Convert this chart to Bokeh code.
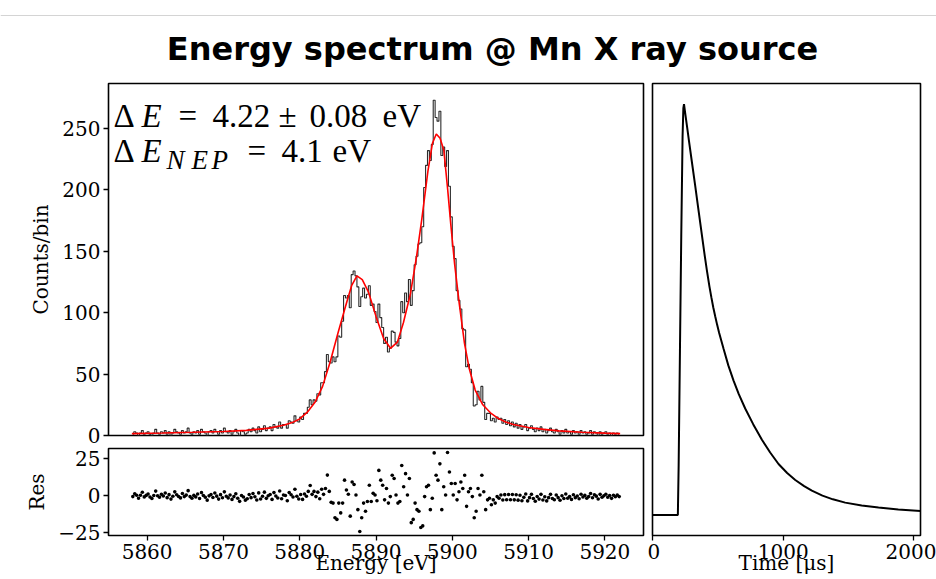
import numpy as np
from bokeh.plotting import figure
from bokeh.layouts import column, row
from bokeh.models import Range1d, FixedTicker, Label, Span
from bokeh.embed import file_html
from bokeh.resources import INLINE

# ---------------- data ----------------
bin_start = 5858.0
bin_width = 0.25

counts = [
    1, 3, 2, 0, 2, 4, 1, 2, 3, 1, 0, 2, 5, 2, 1, 3,
    2, 4, 1, 3, 0, 2, 5, 3, 2, 1, 4, 2, 3, 6, 2, 1,
    3, 2, 4, 1, 5, 3, 2, 0, 3, 4, 2, 5, 3, 1, 4, 2,
    6, 3, 2, 4, 1, 3, 5, 2, 0, 4, 3, 1, 2, 5, 3, 6,
    4, 2, 7, 3, 5, 8, 4, 6,
    7, 4, 9, 7, 6, 11, 6, 9, 9, 6, 12, 11, 10, 16, 12, 11,
    15, 13, 18, 18, 23, 29, 25, 29, 28, 34, 33, 43, 43, 52, 66, 60,
    59, 64, 60, 64, 81, 80, 93, 114, 112, 114, 104, 131, 134, 130, 121, 105,
    113, 120, 112, 115, 122, 106, 107, 101, 92, 107, 96, 88, 75, 80, 68, 71,
    85, 84, 76, 73, 79, 109, 100, 116, 109, 127, 106, 118, 139, 146, 156, 157,
    170, 202, 220, 232, 224, 237, 273, 259, 256, 264, 228, 235, 219, 232, 203, 178,
    154, 144, 118, 110, 103, 87, 86, 56, 58, 54, 43, 24, 25, 36, 29, 40,
    27, 13, 18, 18, 12, 14, 11, 15, 13, 14,
    10, 13, 9, 12, 8, 11, 7, 10, 6, 9, 5, 7, 9, 4, 6, 8,
    5, 3, 6, 4, 7, 3, 5, 2, 4, 6, 3, 2, 5, 3, 1, 4,
    2, 5, 2, 3, 1, 4, 2, 3, 1, 4, 2, 3, 1, 2, 4, 1,
    3, 2, 0, 3, 1, 2, 3, 1, 2, 0, 2, 1, 2, 1,
]

residuals = [
    -0.5, 1.4, 0.4, -1.6, 0.4, 2.4, -0.7, 0.3, 1.3, -0.8, -1.8, 0.2, 3.2, 0.1, -0.9, 1.0,
    -0.1, 1.9, -1.2, 0.8, -2.2, -0.3, 2.7, 0.7, -0.4, -1.4, 1.6, -0.5, 0.5, 3.5, -0.5, -1.6,
    0.3, -0.7, 1.3, -1.8, 2.2, 0.2, -0.9, -2.9, 0.0, 0.9, -1.1, 1.9, -0.2, -2.2, 0.8, -1.3,
    2.7, -0.3, -1.4, 0.6, -2.4, -0.5, 1.4, -1.6, -3.7, 0.2, -0.8, -2.9, -2.0, 0.9, -1.2, 1.6,
    -0.6, -2.8, 2.0, -2.1, -0.3, 2.5, -1.7, 0.1,
    0.9, -2.4, 2.2, -0.1, -1.4, 3.3, -2.0, 0.6, 0.2, -3.3, 2.2, 0.7, -0.8, 4.5, -0.3, -2.1,
    0.9, -2.4, 1.2, -0.3, 3.0, 7.0, 1.0, 3.0, -0.5, 2.5, -2.0, 4.5, 1.0, 5.0, 14.0, 3.0,
    -4.4, -4.9, -14.8, -15.9, -4.9, -11.5, -4.9, 10.6, 3.9, 1.1, -13.7, 9.4, 7.7, 0.6, -9.3, -24.1,
    -14.8, -4.9, -10.4, -3.8, 7.2, -3.8, 1.7, 0.6, -3.3, 17.2, 10.6, 7.2, -2.7, 5.0, -4.9, -0.5,
    13.9, 11.7, 0.6, -4.9, -3.8, 20.5, 6.1, 15.0, 0.6, 11.7, -18.1, -15.9, -4.9, -9.3, -10.4, -21.4,
    -20.3, -0.5, 6.1, 7.2, -9.3, -1.6, 29.0, 13.9, 10.6, 21.6, -9.3, 6.1, 0.6, 29.3, 16.1, 8.3,
    0.6, 8.3, -2.7, 2.8, 9.4, 5.0, 13.9, -7.1, 2.8, 5.0, -0.5, -14.8, -10.4, 5.0, 0.6, 13.9,
    2.8, -9.3, -2.7, -1.6, -6.0, -2.7, -4.9, -0.5, -1.6, 0.6,
    -2.8, 0.8, -2.6, 0.9, -2.6, 0.9, -2.7, 0.7, -2.9, 0.4, -3.3, -1.0, 1.3, -3.4, -1.2, 1.0,
    -1.8, -3.6, -0.4, -2.2, 1.0, -2.8, -0.6, -3.4, -1.2, 1.0, -1.8, -2.6, 0.6, -1.2, -3.0, 0.1,
    -1.8, 1.3, -1.6, -0.5, -2.4, 0.7, -1.2, -0.1, -2.0, 1.1, -0.8, 0.3, -1.6, -0.5, 1.6, -1.3,
    0.8, -0.2, -2.1, 1.0, -1.0, 0.1, 1.1, -0.9, 0.2, -1.7, 0.4, -0.6, 0.5, -0.5,
]

fit_energy = [5858, 5862, 5866, 5870, 5873, 5876, 5878, 5879, 5880, 5881, 5882, 5883,
              5884, 5885, 5886, 5886.8, 5887.5, 5888.2, 5889, 5890, 5891, 5891.9,
              5892.8, 5893.6, 5894.5, 5895.3, 5896, 5896.8, 5897.4, 5897.9, 5898.4,
              5898.9, 5899.4, 5899.8, 5900.3, 5900.9, 5901.6, 5902.2, 5903, 5904,
              5905, 5906, 5907, 5908, 5910, 5912, 5914, 5917, 5920, 5922]
fit_counts = [1.5, 2.0, 2.6, 3.3, 4.2, 6.0, 8.5, 10.5, 13.5, 19, 27, 40,
              60, 83, 105, 122, 130, 127, 117, 97, 79, 71,
              76, 92, 115, 145, 176, 215, 238, 245.5, 242,
              232, 200, 172, 140, 108, 75, 55, 37, 25,
              18.5, 14, 11, 9, 6.5, 5, 3.8, 2.7, 1.9, 1.5]

pulse_time = [0, 194, 200, 210, 220, 230, 236, 241, 250, 263, 280, 300, 327, 350,
              380, 400, 416, 435, 450, 465, 480, 495, 510, 543, 580, 620, 660, 709,
              770, 837, 900, 964, 1030, 1092, 1160, 1219, 1300, 1380, 1474, 1600,
              1729, 1880, 2050]
pulse_amplitude = [0, 0, 0.12, 0.40, 0.68, 0.92, 0.99, 1.00, 0.978, 0.948, 0.908,
                   0.862, 0.800, 0.746, 0.676, 0.630, 0.595, 0.557, 0.530, 0.505,
                   0.483, 0.462, 0.443, 0.405, 0.364, 0.327, 0.294, 0.259, 0.221,
                   0.183, 0.152, 0.124, 0.102, 0.085, 0.070, 0.059, 0.047, 0.038,
                   0.030, 0.023, 0.018, 0.013, 0.0097]

energy_ticks = [5860, 5870, 5880, 5890, 5900, 5910, 5920]
count_ticks = [0, 50, 100, 150, 200, 250]
res_ticks = [-25, 0, 25]
time_ticks = [0, 1000, 2000]

title_text = "Energy spectrum @ Mn X ray source"

# ---------------- derived ----------------
centers = bin_start + bin_width * (np.arange(len(counts)) + 0.5)
cmin, cmax = centers.min(), centers.max()
X0 = cmin - 0.05 * (cmax - cmin)
X1 = cmax + 0.05 * (cmax - cmin)
Y1 = max(counts) * 1.05
rmin, rmax = min(residuals), max(residuals)
R0 = rmin - 0.05 * (rmax - rmin)
R1 = rmax + 0.05 * (rmax - rmin)
pmin, pmax = min(pulse_amplitude), max(pulse_amplitude)
P0 = pmin - 0.05 * (pmax - pmin)
P1 = pmax + 0.05 * (pmax - pmin)

SERIF = "DejaVu Serif"
MATH = "Liberation Serif"
TICK_PX = "20px"

x_range = Range1d(X0, X1)


def style(p):
    p.outline_line_color = "black"
    p.outline_line_width = 1.6
    p.outline_line_alpha = 1.0
    p.xgrid.visible = False
    p.ygrid.visible = False
    p.background_fill_color = "white"
    p.border_fill_color = "white"
    for ax in p.axis:
        ax.axis_line_color = None
        ax.major_tick_out = 5
        ax.major_tick_in = 0
        ax.major_tick_line_width = 1.3
        ax.major_tick_line_color = "black"
        ax.minor_tick_line_color = None
        ax.major_label_text_font = SERIF
        ax.major_label_text_font_size = TICK_PX
        ax.major_label_text_color = "black"
        ax.major_label_standoff = 3
        ax.axis_label_text_font = SERIF
        ax.axis_label_text_font_size = "20px"
        ax.axis_label_text_font_style = "normal"
        ax.axis_label_text_color = "black"
        ax.axis_label_standoff = 6


# ---------------- title strip ----------------
t = figure(width=936, height=70, x_range=Range1d(0, 936), y_range=Range1d(0, 70),
           output_backend="svg", toolbar_location=None,
           x_axis_location=None, y_axis_location=None,
           min_border=0, min_border_left=0, min_border_right=0,
           min_border_top=0, min_border_bottom=0)
t.outline_line_color = None
t.xgrid.visible = False
t.ygrid.visible = False
t.add_layout(Span(location=55, dimension="width", line_color="#d4d4d4", line_width=1))
t.add_layout(Label(x=492, y=22, text=title_text, text_align="center",
                   text_baseline="middle", text_font="DejaVu Sans",
                   text_font_style="bold", text_font_size="32px", text_color="black"))

# ---------------- main spectrum ----------------
FL, FR, FT, FB = 108, 643, 83, 435  # frame in page px (for annotation placement)


def mx(px):
    return X0 + (px - FL) * (X1 - X0) / (FR - FL)


def my(py):
    return Y1 - (py - FT) * Y1 / (FB - FT)


m = figure(width=647, height=377, x_range=x_range, y_range=Range1d(0, Y1),
           output_backend="svg", toolbar_location=None, x_axis_location=None,
           min_border_left=108, min_border_right=4, min_border_top=13,
           min_border_bottom=12)
style(m)
m.yaxis.ticker = FixedTicker(ticks=count_ticks)
m.yaxis.axis_label = "Counts/bin"
m.step(x=centers, y=counts, mode="center", line_color="#2b2b2b", line_width=1.1)
m.line(fit_energy, fit_counts, line_color="red", line_width=1.6)

MATH_PX = "33px"
tokens1 = [("Δ", 113, "normal"), ("E", 141, "italic"), ("=", 178, "normal"),
           ("4.22", 212, "normal"), ("±", 278, "normal"), ("0.08", 309, "normal"),
           ("eV", 382, "normal")]
for txt, px, st in tokens1:
    m.add_layout(Label(x=mx(px), y=my(115.5), text=txt, text_font=MATH,
                       text_font_style=st, text_font_size=MATH_PX,
                       text_baseline="alphabetic", text_align="left", text_color="black"))
tokens2 = [("Δ", 113, "normal"), ("E", 141, "italic"), ("=", 247, "normal"),
           ("4.1", 281, "normal"), ("eV", 332, "normal")]
for txt, px, st in tokens2:
    m.add_layout(Label(x=mx(px), y=my(150.5), text=txt, text_font=MATH,
                       text_font_style=st, text_font_size=MATH_PX,
                       text_baseline="alphabetic", text_align="left", text_color="black"))
# subscript "NEP" (letters placed one by one to match the wide math spacing)
for txt, px in [("N", 166), ("E", 191), ("P", 211)]:
    m.add_layout(Label(x=mx(px), y=my(159.5), text=txt, text_font=MATH,
                       text_font_style="italic", text_font_size="27px",
                       text_baseline="alphabetic", text_align="left", text_color="black"))

# ---------------- residuals ----------------
r = figure(width=647, height=132, x_range=x_range, y_range=Range1d(R0, R1),
           output_backend="svg", toolbar_location=None,
           min_border_left=108, min_border_right=4, min_border_top=1,
           min_border_bottom=44)
style(r)
r.xaxis.ticker = FixedTicker(ticks=energy_ticks)
r.yaxis.ticker = FixedTicker(ticks=res_ticks)
r.yaxis.major_label_overrides = {-25: "\u221225"}
r.yaxis.axis_label = "Res"
r.xaxis.axis_label = "Energy [eV]"
r.xaxis.axis_label_standoff = -11
r.scatter(centers, residuals, size=3.6, color="black", line_width=0)

# ---------------- pulse ----------------
q = figure(width=289, height=509, x_range=Range1d(min(pulse_time), max(pulse_time)),
           y_range=Range1d(P0, P1), output_backend="svg", toolbar_location=None,
           y_axis_location=None,
           min_border_left=5, min_border_right=16, min_border_top=13,
           min_border_bottom=44)
style(q)
q.xaxis.ticker = FixedTicker(ticks=time_ticks)
q.xaxis.axis_label = "Time [μs]"
q.xaxis.axis_label_standoff = -11
q.line(pulse_time, pulse_amplitude, line_color="black", line_width=2)

layout = column(t, row(column(m, r), q))
open("out.html", "w").write(file_html(layout, INLINE))
